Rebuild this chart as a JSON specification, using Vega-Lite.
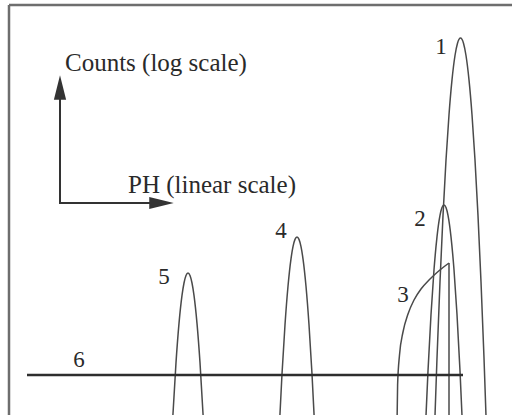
{
  "$schema": "https://vega.github.io/schema/vega-lite/v6.json",
  "width": 512,
  "height": 415,
  "padding": 0,
  "autosize": {"type": "fit", "contains": "padding"},
  "background": "white",
  "config": {"view": {"stroke": null}},
  "datasets": {
    "curves": [
      {"s": "p5", "x": 172.5, "y": 422}, {"s": "p5", "x": 176, "y": 362.6}, {"s": "p5", "x": 179, "y": 323.4}, {"s": "p5", "x": 182, "y": 295.4}, {"s": "p5", "x": 184, "y": 283}, {"s": "p5", "x": 186, "y": 275.5}, {"s": "p5", "x": 188, "y": 273}, {"s": "p5", "x": 190, "y": 275.5}, {"s": "p5", "x": 192, "y": 283}, {"s": "p5", "x": 194, "y": 295.4}, {"s": "p5", "x": 197, "y": 323.4}, {"s": "p5", "x": 200, "y": 362.6}, {"s": "p5", "x": 203.5, "y": 422},
      {"s": "p4", "x": 279.5, "y": 423.4}, {"s": "p4", "x": 282, "y": 374}, {"s": "p4", "x": 285, "y": 324.7}, {"s": "p4", "x": 288, "y": 286.3}, {"s": "p4", "x": 291, "y": 258.9}, {"s": "p4", "x": 293, "y": 246.7}, {"s": "p4", "x": 295, "y": 239.4}, {"s": "p4", "x": 297, "y": 237}, {"s": "p4", "x": 299, "y": 239.4}, {"s": "p4", "x": 301, "y": 246.7}, {"s": "p4", "x": 303, "y": 258.9}, {"s": "p4", "x": 306, "y": 286.3}, {"s": "p4", "x": 309, "y": 324.7}, {"s": "p4", "x": 312, "y": 374}, {"s": "p4", "x": 314.5, "y": 423.4},
      {"s": "p1", "x": 434.5, "y": 430}, {"s": "p1", "x": 437, "y": 358}, {"s": "p1", "x": 440, "y": 281.7}, {"s": "p1", "x": 443, "y": 215.6}, {"s": "p1", "x": 446, "y": 160}, {"s": "p1", "x": 449, "y": 114.7}, {"s": "p1", "x": 452, "y": 79.9}, {"s": "p1", "x": 455, "y": 55.5}, {"s": "p1", "x": 457.5, "y": 43.2}, {"s": "p1", "x": 460.5, "y": 38}, {"s": "p1", "x": 463.5, "y": 43.2}, {"s": "p1", "x": 466, "y": 55.5}, {"s": "p1", "x": 469, "y": 79.9}, {"s": "p1", "x": 472, "y": 114.7}, {"s": "p1", "x": 475, "y": 160}, {"s": "p1", "x": 478, "y": 215.6}, {"s": "p1", "x": 481, "y": 281.7}, {"s": "p1", "x": 484, "y": 358}, {"s": "p1", "x": 486.5, "y": 430},
      {"s": "p2", "x": 425.5, "y": 426.8}, {"s": "p2", "x": 428, "y": 370.9}, {"s": "p2", "x": 431, "y": 314.5}, {"s": "p2", "x": 434, "y": 269.8}, {"s": "p2", "x": 437, "y": 236.8}, {"s": "p2", "x": 440, "y": 215.4}, {"s": "p2", "x": 442, "y": 207.6}, {"s": "p2", "x": 444, "y": 205}, {"s": "p2", "x": 446, "y": 207.6}, {"s": "p2", "x": 448, "y": 215.4}, {"s": "p2", "x": 451, "y": 236.8}, {"s": "p2", "x": 454, "y": 269.8}, {"s": "p2", "x": 457, "y": 314.5}, {"s": "p2", "x": 460, "y": 370.9}, {"s": "p2", "x": 462.5, "y": 426.8},
      {"s": "p3", "x": 397, "y": 425}, {"s": "p3", "x": 397.6, "y": 385}, {"s": "p3", "x": 399.5, "y": 355}, {"s": "p3", "x": 403, "y": 332}, {"s": "p3", "x": 408, "y": 314}, {"s": "p3", "x": 414, "y": 300}, {"s": "p3", "x": 421, "y": 289}, {"s": "p3", "x": 429, "y": 280}, {"s": "p3", "x": 437, "y": 272.5}, {"s": "p3", "x": 443, "y": 267.5}, {"s": "p3", "x": 449, "y": 263}
    ],
    "frame": [
      {"x": 9, "x2": 512, "y": 5, "y2": 5},
      {"x": 9, "x2": 9, "y": 5, "y2": 415}
    ],
    "edges": [
      {"x": 449, "x2": 449, "y": 263, "y2": 425}
    ],
    "baseline": [
      {"x": 27, "x2": 463, "y": 375, "y2": 375}
    ],
    "arrowLines": [
      {"x": 60, "x2": 60, "y": 203, "y2": 98},
      {"x": 59, "x2": 152, "y": 203, "y2": 203}
    ],
    "heads": [
      {"dir": "up", "x": 60, "y": 87.5},
      {"dir": "right", "x": 161.5, "y": 203}
    ],
    "labels": [
      {"t": "1", "x": 441, "y": 54},
      {"t": "2", "x": 420, "y": 226},
      {"t": "3", "x": 403, "y": 302},
      {"t": "4", "x": 281, "y": 238},
      {"t": "5", "x": 164, "y": 284},
      {"t": "6", "x": 79, "y": 367}
    ],
    "titles": [
      {"t": "Counts (log scale)", "x": 65, "y": 71},
      {"t": "PH (linear scale)", "x": 128, "y": 193}
    ]
  },
  "encoding": {
    "x": {"field": "x", "type": "quantitative", "scale": {"domain": [0, 512], "nice": false, "zero": false}, "axis": null},
    "y": {"field": "y", "type": "quantitative", "scale": {"domain": [0, 415], "nice": false, "zero": false, "reverse": true}, "axis": null}
  },
  "layer": [
    {
      "data": {"name": "frame"},
      "mark": {"type": "rule", "stroke": "#6e6e6e", "strokeWidth": 2.5, "clip": true},
      "encoding": {"x2": {"field": "x2"}, "y2": {"field": "y2"}}
    },
    {
      "data": {"name": "curves"},
      "mark": {"type": "line", "interpolate": "monotone", "stroke": "#4a4a4a", "strokeWidth": 1.5, "clip": true},
      "encoding": {"detail": {"field": "s"}}
    },
    {
      "data": {"name": "edges"},
      "mark": {"type": "rule", "stroke": "#4a4a4a", "strokeWidth": 1.5, "clip": true},
      "encoding": {"x2": {"field": "x2"}, "y2": {"field": "y2"}}
    },
    {
      "data": {"name": "baseline"},
      "mark": {"type": "rule", "stroke": "#2e2e2e", "strokeWidth": 2.5, "clip": true},
      "encoding": {"x2": {"field": "x2"}, "y2": {"field": "y2"}}
    },
    {
      "data": {"name": "arrowLines"},
      "mark": {"type": "rule", "stroke": "#333333", "strokeWidth": 2, "clip": true},
      "encoding": {"x2": {"field": "x2"}, "y2": {"field": "y2"}}
    },
    {
      "data": {"name": "heads"},
      "transform": [{"filter": "datum.dir === 'up'"}],
      "mark": {"type": "point", "shape": "M0,-1L0.5,1L-0.5,1Z", "size": 600, "filled": true, "fill": "#333333", "opacity": 1, "strokeWidth": 0}
    },
    {
      "data": {"name": "heads"},
      "transform": [{"filter": "datum.dir === 'right'"}],
      "mark": {"type": "point", "shape": "M1,0L-1,0.5L-1,-0.5Z", "size": 600, "filled": true, "fill": "#333333", "opacity": 1, "strokeWidth": 0}
    },
    {
      "data": {"name": "labels"},
      "mark": {"type": "text", "font": "Liberation Serif", "fontSize": 23, "fill": "#2a2a2a", "align": "center", "baseline": "alphabetic"},
      "encoding": {"text": {"field": "t"}}
    },
    {
      "data": {"name": "titles"},
      "mark": {"type": "text", "font": "Liberation Serif", "fontSize": 25, "fill": "#2a2a2a", "align": "left", "baseline": "alphabetic"},
      "encoding": {"text": {"field": "t"}}
    }
  ]
}
